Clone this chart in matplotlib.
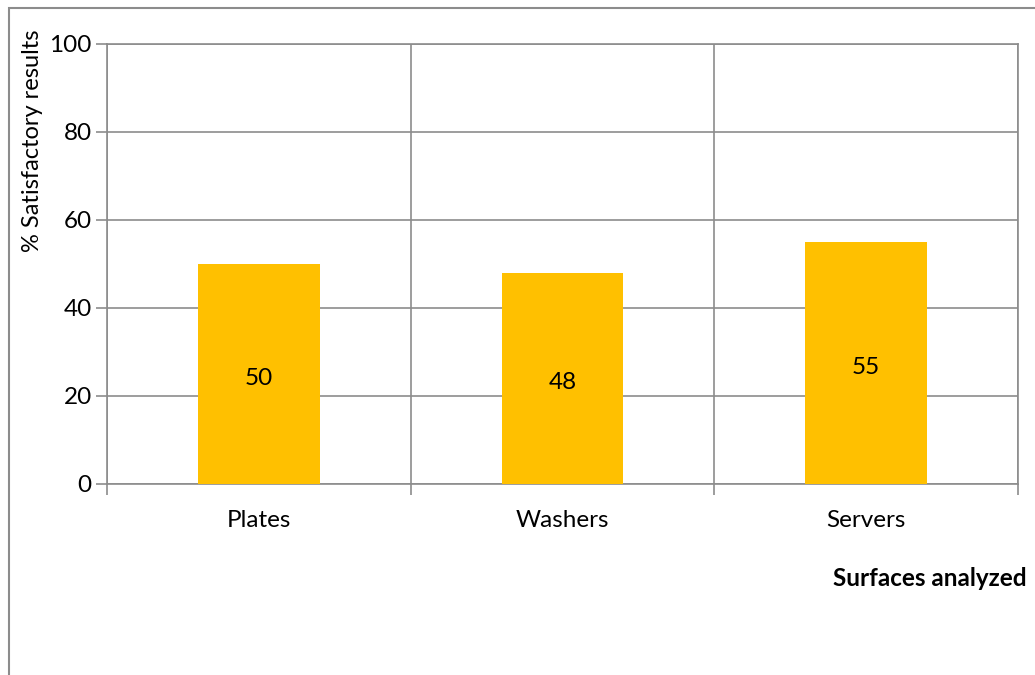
import matplotlib.pyplot as plt
from matplotlib.patches import Rectangle

surfaces = ["Plates", "Washers", "Servers"]
satisfactory = [50, 48, 55]
y_ticks = [0, 20, 40, 60, 80, 100]

W, H = 1035, 675
plt.rcParams['font.family'] = ['Lato', 'DejaVu Sans']
fs = 17.5

fig = plt.figure(figsize=(W / 100, H / 100), dpi=100)
# plot area in pixel coordinates
left, right, top, bottom = 107, 1018, 44, 484
ax = fig.add_axes([left / W, 1 - bottom / H, (right - left) / W, (bottom - top) / H])

grey = '#8c8c8c'
x = list(range(len(surfaces)))
bars = ax.bar(x, satisfactory, width=0.4, color='#FFC000', zorder=3)
for xi, v in zip(x, satisfactory):
    ax.annotate(str(v), (xi, v / 2), xytext=(0, -3), textcoords='offset points',
                ha='center', va='center', fontsize=fs, color='black', zorder=4)

ax.set_xlim(-0.5, len(surfaces) - 0.5)
ax.set_ylim(0, 100)
ax.set_yticks(y_ticks)
ax.set_yticklabels([str(t) for t in y_ticks], fontsize=fs)
ax.yaxis.grid(True, color=grey, linewidth=1.2, zorder=0)

# vertical lines at category boundaries
ax.set_xticks([i - 0.5 for i in range(len(surfaces) + 1)], minor=False)
ax.set_xticklabels([])
ax.xaxis.grid(True, color=grey, linewidth=1.2, zorder=0)
ax.set_xticks(x, minor=True)
ax.set_xticklabels(surfaces, minor=True, fontsize=fs)
ax.tick_params(axis='x', which='minor', length=0, pad=19)
ax.tick_params(axis='x', which='major', length=8, color=grey, width=1.2)
ax.tick_params(axis='y', length=8, color=grey, width=1.2, pad=3)

for side in ['left', 'bottom', 'right', 'top']:
    ax.spines[side].set_color(grey)
    ax.spines[side].set_linewidth(1.2)

# chart border
fig.patches.append(Rectangle((9 / W, -0.1), 1.1, 1 - 8 / H + 0.1, transform=fig.transFigure,
                             fill=False, edgecolor=grey, linewidth=1.5))

fig.text(33 / W, 1 - 141 / H, "% Satisfactory results", rotation=90, ha='center', va='center',
         fontsize=17)
fig.text(1027 / W, 1 - 578 / H, "Surfaces analyzed", ha='right', va='center',
         fontsize=fs, fontweight='bold')

fig.savefig('out.png', dpi=100)
